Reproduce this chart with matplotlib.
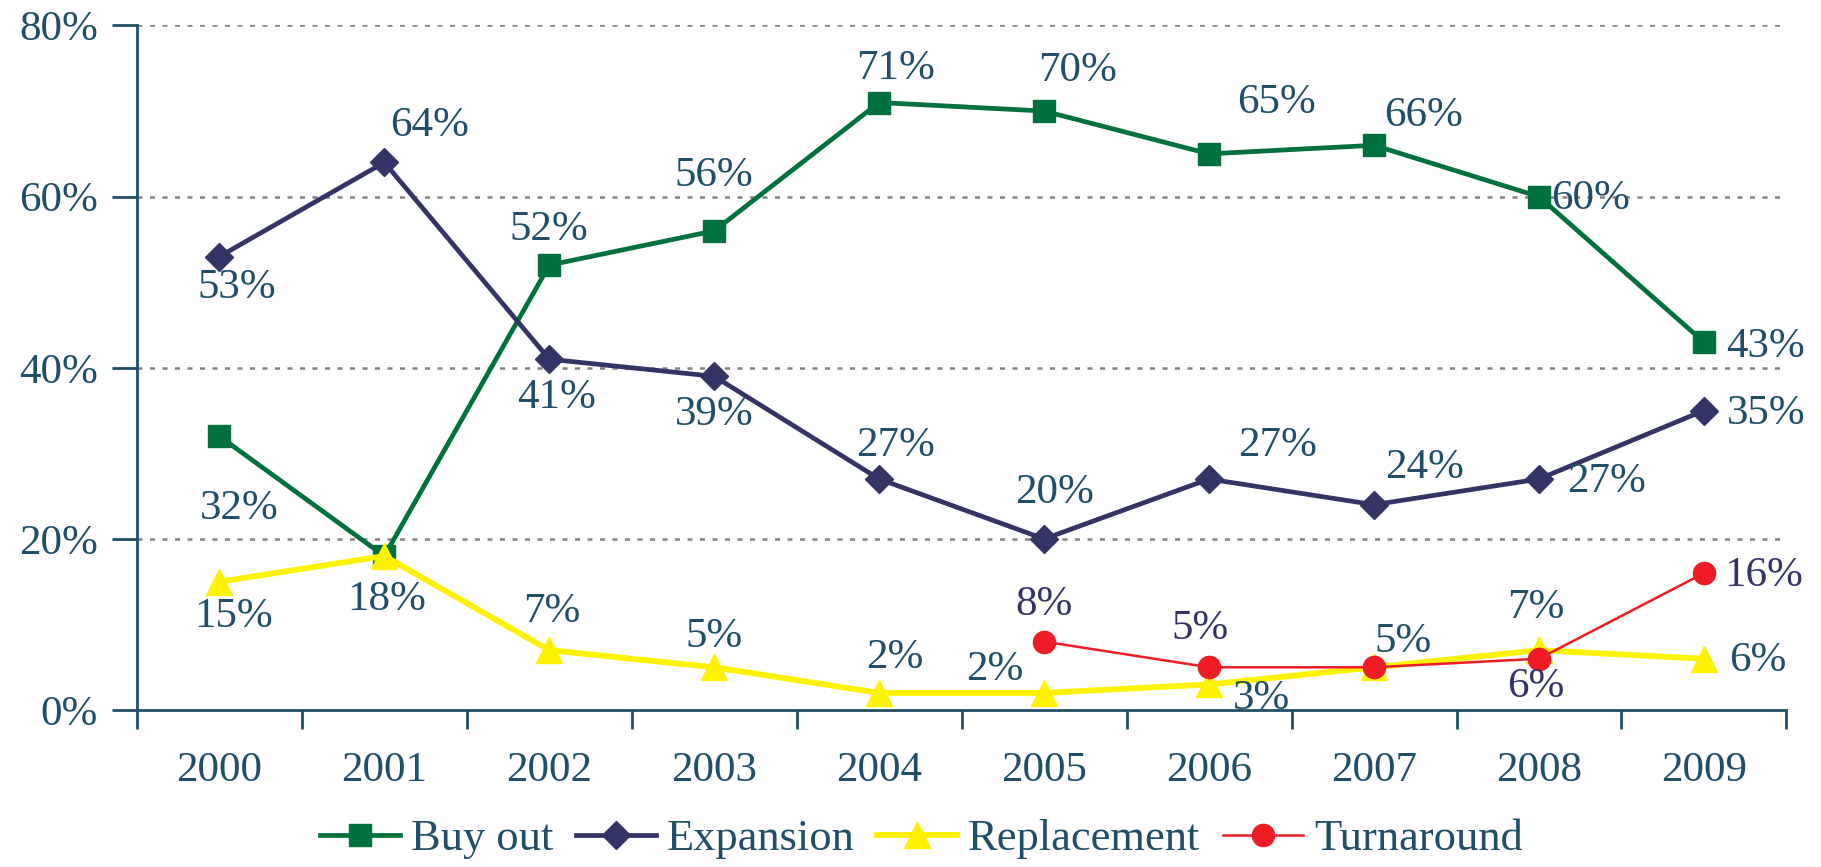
import numpy as np
import matplotlib
matplotlib.use("Agg")
import matplotlib.pyplot as plt

plt.rcParams['font.family'] = ['Liberation Serif', 'DejaVu Serif']

# data
years = ["2000", "2001", "2002", "2003", "2004", "2005", "2006", "2007", "2008", "2009"]
buy_out = [32, 18, 52, 56, 71, 70, 65, 66, 60, 43]
expansion = [53, 64, 41, 39, 27, 20, 27, 24, 27, 35]
replacement = [15, 18, 7, 5, 2, 2, 3, 5, 7, 6]
turnaround = [None, None, None, None, None, 8, 5, 5, 6, 16]
y_ticks = [0, 20, 40, 60, 80]

# label offsets in pixels (dx, dy); None = no label
off_buy = [(20, -73), None, (0, 35), (0, 55), (16, 34), (33, 40), (67, 51), (50, 30), (52, -2), (62, -5)]
off_exp = [(17, -31), (45, 37), (7, -39), (0, -38), (16, 33), (10, 46), (68, 33), (51, 37), (68, -3), (62, -3)]
off_rep = [(14, -35), (2, -44), (3, 38), (0, 31), (16, 35), (-49, 23), (52, -14), (29, 26), (-3, 42), (54, -2)]
off_turn = [None, None, None, None, None, (0, 37), (-9, 39), None, (-3, -28), (60, -3)]

teal = "#1f4e66"
navy = "#333366"

fig = plt.figure(figsize=(18.21, 8.67), dpi=100)
ax = fig.add_axes([0.0752, 0.181, 0.9058, 0.7896])

x = np.arange(len(years))
series = [
    ("Buy out", buy_out, "#00703c", "s", 16, 3.4, off_buy, teal),
    ("Expansion", expansion, navy, "D", 14, 3.4, off_exp, teal),
    ("Replacement", replacement, "#fff200", "^", 19, 4.2, off_rep, teal),
    ("Turnaround", turnaround, "#ee1c25", "o", 16, 1.8, off_turn, navy),
]

for name, vals, col, mk, ms, lw, offs, lcol in series:
    v = np.array([np.nan if a is None else a for a in vals], dtype=float)
    ax.plot(x, v, color=col, marker=mk, markersize=ms, linewidth=lw,
            markeredgecolor=col, label=name, zorder=3)
    for i, val in enumerate(vals):
        if val is None or offs[i] is None:
            continue
        ax.annotate(f"{val}%", (x[i], val), xytext=offs[i], textcoords="offset pixels",
                    ha="center", va="center", fontsize=31, color=lcol, zorder=4)

ax.set_xlim(-0.5, len(years) - 0.5)
ax.set_ylim(0, 80)
ax.set_yticks(y_ticks)
ax.set_yticklabels([f"{t}%" for t in y_ticks])
ax.set_xticks(x)
ax.set_xticklabels(years)
ax.set_xticks(np.arange(-0.5, len(years)), minor=True)
ax.tick_params(axis="x", which="major", length=0, pad=30, labelsize=31, labelcolor=teal)
ax.tick_params(axis="x", which="minor", length=14, width=2, color=teal, direction="out")
ax.tick_params(axis="y", length=18, width=2, color=teal, labelsize=31, labelcolor=teal, pad=10)

for t in y_ticks[1:]:
    ax.axhline(t, color="#8a7f7f", linewidth=1.8, linestyle=(0, (2, 3)), zorder=1)

for s in ["top", "right"]:
    ax.spines[s].set_visible(False)
for s in ["left", "bottom"]:
    ax.spines[s].set_color(teal)
    ax.spines[s].set_linewidth(2)

leg = fig.legend(loc="center", bbox_to_anchor=(0.506, 0.032), ncol=4, frameon=False,
                 fontsize=32, handlelength=1.8, columnspacing=0.5, handletextpad=0.25)
for t in leg.get_texts():
    t.set_color(teal)

fig.savefig("out.png", dpi=100)
